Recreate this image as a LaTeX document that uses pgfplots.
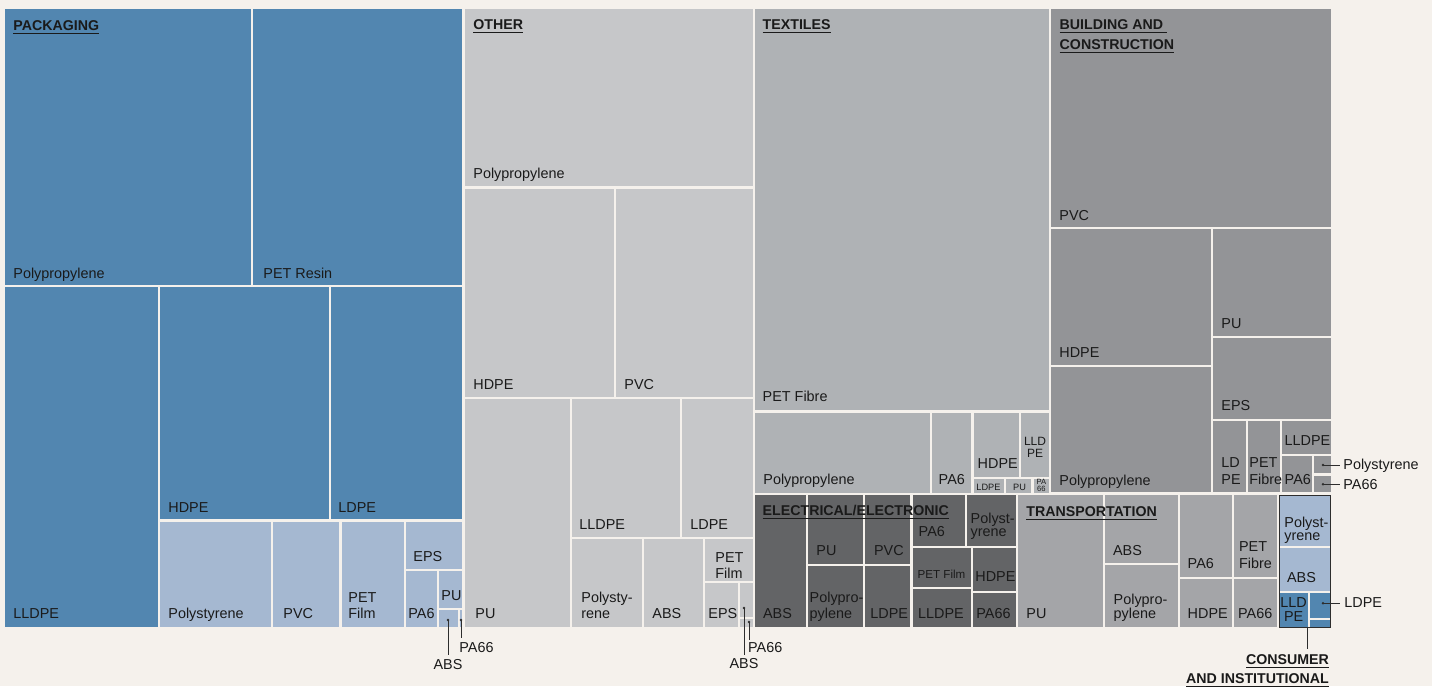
\documentclass[border=0pt]{standalone}
\usepackage{pgfplots}
\pgfplotsset{compat=1.18}
\usepackage{fontspec}
\setmainfont{Liberation Sans}

\definecolor{bg}{RGB}{245,241,236}
\definecolor{pkd}{RGB}{82,134,176}
\definecolor{pkl}{RGB}{165,184,209}
\definecolor{oth}{RGB}{198,199,201}
\definecolor{tex}{RGB}{175,178,181}
\definecolor{bld}{RGB}{147,148,151}
\definecolor{ele}{RGB}{99,100,102}
\definecolor{tra}{RGB}{164,165,168}
\definecolor{txt}{RGB}{26,26,26}
\definecolor{ann}{RGB}{45,45,45}

% one treemap cell: x0 y0 x1 y1 colour (pixel units, y down)
\newcommand{\cell}[5]{\addplot[draw=none,fill=#5,mark=none] coordinates {(#1,#2) (#3,#2) (#3,#4) (#1,#4)} -- cycle;}
\newcommand{\lab}[4][7.2]{\node[anchor=base west,inner sep=0pt,text=txt,font=\fontsize{#1}{#1}\selectfont] at (axis cs:#2,#3) {#4};}
\newcommand{\clab}[4][7.2]{\node[anchor=base,inner sep=0pt,text=txt,font=\fontsize{#1}{#1}\selectfont] at (axis cs:#2,#3) {#4};}
\newcommand{\hdr}[3]{\node[anchor=base west,inner sep=0pt,text=txt,font=\bfseries\fontsize{7.1}{7.1}\selectfont] at (axis cs:#1,#2) {\underline{#3}};}
\newcommand{\ptr}[4]{\draw[ann,line width=0.5pt] (axis cs:#1,#2) -- (axis cs:#3,#4);
  \fill[ann] (axis cs:#1,#2) circle[radius=0.7pt];}

\begin{document}
\begin{tikzpicture}
\begin{axis}[
    width=716pt, height=343pt, scale only axis,
    xmin=0, xmax=1432, ymin=0, ymax=686,
    y dir=reverse,
    axis line style={draw=none},
    xtick=\empty, ytick=\empty,
    axis background/.style={fill=bg},
    clip=false,
]
% PACKAGING
\cell{5}{9}{251}{285}{pkd}
\cell{253}{9}{462}{285}{pkd}
\cell{5}{287}{158}{627}{pkd}
\cell{160}{287}{329}{519}{pkd}
\cell{331}{287}{462}{519}{pkd}
\cell{160}{522}{271}{627}{pkl}
\cell{273}{522}{339}{627}{pkl}
\cell{342}{522}{404}{627}{pkl}
\cell{406}{522}{462}{569}{pkl}
\cell{406}{571}{437}{627}{pkl}
\cell{439}{571}{462}{608}{pkl}
\cell{439}{610}{458}{627}{pkl}
\cell{460}{610}{462}{627}{pkl}
% OTHER
\cell{465}{9}{753}{186}{oth}
\cell{465}{189}{614}{397}{oth}
\cell{616}{189}{753}{397}{oth}
\cell{465}{399}{570}{627}{oth}
\cell{572}{399}{680}{537}{oth}
\cell{682}{399}{753}{537}{oth}
\cell{572}{539}{642}{627}{oth}
\cell{644}{539}{703}{627}{oth}
\cell{705}{539}{753}{581}{oth}
\cell{705}{583}{738}{627}{oth}
\cell{740}{583}{753}{617}{oth}
\cell{740}{619}{753}{627}{oth}
% TEXTILES
\cell{755}{9}{1049}{410}{tex}
\cell{755}{413}{930}{492.7}{tex}
\cell{932}{413}{971}{492.7}{tex}
\cell{973.7}{413}{1019}{477}{tex}
\cell{1021}{413}{1049}{477}{tex}
\cell{973.7}{479}{1004}{492.7}{tex}
\cell{1006}{479}{1031}{492.7}{tex}
\cell{1033.7}{479}{1049}{492.7}{tex}
% ELECTRICAL/ELECTRONIC
\cell{755}{495}{806}{627}{ele}
\cell{808}{495}{863}{564}{ele}
\cell{865}{495}{910}{564}{ele}
\cell{808}{566}{863}{627}{ele}
\cell{865}{566}{910}{627}{ele}
\cell{913}{495}{965}{545.7}{ele}
\cell{967}{495}{1015.7}{545.7}{ele}
\cell{913}{548}{970.7}{586.7}{ele}
\cell{913}{589}{970.7}{627}{ele}
\cell{972.7}{548}{1015.7}{590.7}{ele}
\cell{972.7}{592.7}{1015.7}{627}{ele}
% TRANSPORTATION
\cell{1018}{495}{1103}{627}{tra}
\cell{1105}{495}{1177.7}{563.3}{tra}
\cell{1105}{565.3}{1177.7}{627}{tra}
\cell{1180}{495}{1231.7}{577}{tra}
\cell{1233.7}{495}{1277}{577}{tra}
\cell{1180}{579}{1231.7}{627}{tra}
\cell{1233.7}{579}{1277}{627}{tra}
% CONSUMER AND INSTITUTIONAL
\cell{1279}{495}{1330}{546}{pkl}
\cell{1279}{548}{1330}{590.7}{pkl}
\cell{1279}{593}{1308.3}{627}{pkd}
\cell{1310.3}{593}{1330}{618}{pkd}
\cell{1310.3}{620}{1330}{627}{pkd}
\addplot[draw=ann,line width=0.5pt,fill=none,mark=none] coordinates {(1279,495) (1330,495) (1330,627) (1279,627)} -- cycle;
% BUILDING AND CONSTRUCTION
\cell{1051}{9}{1330.5}{226.7}{bld}
\cell{1051}{229}{1211}{365}{bld}
\cell{1051}{366.7}{1211}{491.7}{bld}
\cell{1213}{229}{1330.5}{335.7}{bld}
\cell{1213}{337.7}{1330.5}{418.7}{bld}
\cell{1213}{421}{1246}{491.7}{bld}
\cell{1248}{421}{1280}{491.7}{bld}
\cell{1282}{421}{1330.5}{454}{bld}
\cell{1282}{455.7}{1311.7}{491.7}{bld}
\cell{1314}{455.7}{1330.5}{473.3}{bld}
\cell{1314}{475.7}{1330.5}{491.7}{bld}

% labels: packaging
\hdr{13}{30}{PACKAGING}
\lab{13}{278}{Polypropylene}
\lab{263}{278}{PET Resin}
\lab{13}{618}{LLDPE}
\lab{168}{512}{HDPE}
\lab{338}{512}{LDPE}
\lab{168}{618}{Polystyrene}
\lab{283}{618}{PVC}
\lab{348}{602}{PET}
\lab{348}{618}{Film}
\lab{413}{561}{EPS}
\lab{408}{618}{PA6}
\lab{441}{600}{PU}
\ptr{448}{620}{448}{655}
\clab{448}{669}{ABS}
\ptr{461}{620}{461}{638}
\lab{459}{652}{PA66}
% other
\hdr{473}{29.5}{OTHER}
\lab{473}{178}{Polypropylene}
\lab{473}{389}{HDPE}
\lab{624}{389}{PVC}
\lab{475}{618}{PU}
\lab{579}{529}{LLDPE}
\lab{690}{529}{LDPE}
\lab{581}{602}{Polysty-}
\lab{581}{618}{rene}
\lab{652}{618}{ABS}
\lab{715}{562}{PET}
\lab{715}{578}{Film}
\lab{708}{618}{EPS}
\ptr{744}{608}{744}{655}
\clab{744}{668.5}{ABS}
\ptr{749}{622}{749}{640}
\lab{747.7}{652}{PA66}
% textiles
\hdr{762.3}{29}{TEXTILES}
\lab{762.3}{401.7}{PET Fibre}
\lab{763}{484.3}{Polypropylene}
\lab{938.3}{484.3}{PA6}
\lab{977.3}{468.3}{HDPE}
\clab[6]{1035}{445}{LLD}
\clab[6]{1035}{457.3}{PE}
\lab[4.6]{976}{490}{LDPE}
\lab[4.6]{1012.7}{490}{PU}
\clab[3.8]{1041.3}{484.5}{PA}
\clab[3.8]{1041.3}{491.3}{66}
% electrical
\hdr{762.3}{515.7}{ELECTRICAL/ELECTRONIC}
\lab{762.7}{618.3}{ABS}
\lab{816}{555.7}{PU}
\lab{873.7}{555.7}{PVC}
\lab{809.3}{602.7}{Polypro-}
\lab{809.3}{618.3}{pylene}
\lab{870}{618.3}{LDPE}
\lab{918.3}{536.7}{PA6}
\lab{970.3}{523.3}{Polyst-}
\lab{970.3}{536.7}{yrene}
\lab[5.8]{917.3}{578.3}{PET Film}
\lab{975}{581.7}{HDPE}
\lab{917.7}{618.3}{LLDPE}
\lab{976}{618.3}{PA66}
% transportation
\hdr{1026}{516}{TRANSPORTATION}
\lab{1026}{618.3}{PU}
\lab{1112.7}{555}{ABS}
\lab{1113.3}{604.3}{Polypro-}
\lab{1113.3}{618}{pylene}
\lab{1187.3}{568.3}{PA6}
\lab{1238.7}{551.7}{PET}
\lab{1238.7}{568.3}{Fibre}
\lab{1187.3}{618}{HDPE}
\lab{1237.7}{618}{PA66}
% consumer and institutional
\lab{1284}{527.5}{Polyst-}
\lab{1284}{540.5}{yrene}
\lab{1286.7}{582.7}{ABS}
\clab{1293.6}{607.3}{LLD}
\clab{1293.6}{621.7}{PE}
\ptr{1323}{603.3}{1340}{603.3}
\lab{1344}{607.5}{LDPE}
\draw[ann,line width=0.5pt] (axis cs:1307.7,627) -- (axis cs:1307.7,649);
\node[anchor=base east,inner sep=0pt,text=txt,font=\bfseries\fontsize{7.1}{7.1}\selectfont] at (axis cs:1329.3,664) {\underline{CONSUMER}};
\node[anchor=base east,inner sep=0pt,text=txt,font=\bfseries\fontsize{7.1}{7.1}\selectfont] at (axis cs:1329.3,683) {\underline{AND INSTITUTIONAL}};
% building and construction
\hdr{1059.3}{29}{BUILDING AND\ }
\hdr{1059.3}{49}{CONSTRUCTION}
\lab{1059}{220}{PVC}
\lab{1059}{357.7}{HDPE}
\lab{1059}{485}{Polypropylene}
\lab{1221}{328.3}{PU}
\lab{1221}{410.7}{EPS}
\lab{1221}{467.7}{LD}
\lab{1221}{484}{PE}
\lab{1249}{467.7}{PET}
\lab{1249}{484}{Fibre}
\lab{1284.3}{445.7}{LLDPE}
\lab{1284.3}{484}{PA6}
\ptr{1323}{465}{1340}{465}
\lab{1343}{469.5}{Polystyrene}
\ptr{1323}{484.3}{1340}{484.3}
\lab{1343}{489}{PA66}
\end{axis}
\end{tikzpicture}
\end{document}
